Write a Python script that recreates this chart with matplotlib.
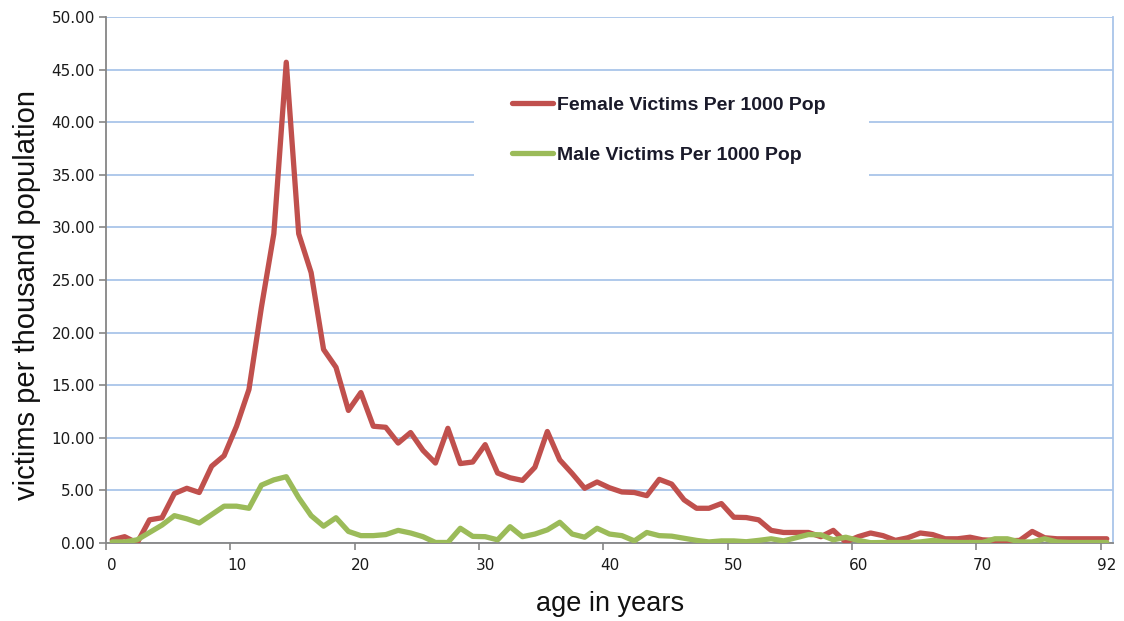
import matplotlib
matplotlib.use("Agg")
import matplotlib.pyplot as plt
from matplotlib.patches import Rectangle

# ---- data ----
age_categories = [str(a) for a in range(0, 80)] + ["92"]

female_rate = [0.3, 0.6, 0.0, 2.2, 2.4, 4.7, 5.2, 4.8, 7.3, 8.3,
               11.1, 14.6, 22.4, 29.4, 45.7, 29.4, 25.7, 18.4, 16.7, 12.6,
               14.3, 11.1, 11.0, 9.5, 10.5, 8.8, 7.6, 10.9, 7.55, 7.7,
               9.35, 6.65, 6.2, 5.95, 7.2, 10.6, 7.9, 6.6, 5.2, 5.8,
               5.25, 4.85, 4.8, 4.5, 6.05, 5.6, 4.1, 3.3, 3.3, 3.75,
               2.45, 2.42, 2.2, 1.2, 1.0, 1.0, 1.0, 0.6, 1.2, 0.1,
               0.6, 0.95, 0.7, 0.25, 0.5, 0.95, 0.8, 0.4, 0.4, 0.55,
               0.3, 0.25, 0.2, 0.25, 1.1, 0.5, 0.4, 0.4, 0.4, 0.4,
               0.4]

male_rate = [0.1, 0.1, 0.3, 1.0, 1.7, 2.6, 2.3, 1.9, 2.7, 3.5,
             3.5, 3.3, 5.5, 6.0, 6.3, 4.3, 2.6, 1.6, 2.4, 1.1,
             0.7, 0.7, 0.8, 1.2, 0.95, 0.6, 0.05, 0.05, 1.4, 0.63,
             0.6, 0.3, 1.55, 0.6, 0.85, 1.25, 1.97, 0.85, 0.55, 1.4,
             0.85, 0.7, 0.2, 1.0, 0.7, 0.65, 0.45, 0.25, 0.1, 0.2,
             0.2, 0.12, 0.25, 0.4, 0.2, 0.5, 0.8, 0.78, 0.3, 0.55,
             0.25, 0.03, 0.05, 0.05, 0.05, 0.1, 0.25, 0.1, 0.05, 0.05,
             0.05, 0.4, 0.4, 0.1, 0.1, 0.4, 0.1, 0.05, 0.05, 0.05,
             0.05]

y_ticks = [0, 5, 10, 15, 20, 25, 30, 35, 40, 45, 50]
series_names = ["Female Victims Per 1000 Pop", "Male Victims Per 1000 Pop"]

# ---- figure ----
W, H = 1124, 621
AX_L, AX_R, AX_T, AX_B = 106, 1113, 17, 543
fig = plt.figure(figsize=(W / 100, H / 100), dpi=100)
ax = fig.add_axes([AX_L / W, 1 - AX_B / H, (AX_R - AX_L) / W, (AX_B - AX_T) / H])

x = list(range(len(age_categories)))
red = "#C0504D"
green = "#9BBB59"
grid_c = "#A9C5E9"
axis_c = "#868686"

ax.set_axisbelow(True)
ax.yaxis.grid(True, color=grid_c, linewidth=1.3)
ax.plot(x, female_rate, color=red, linewidth=3.8, solid_joinstyle="round",
        solid_capstyle="round", label=series_names[0], zorder=3)
ax.plot(x, male_rate, color=green, linewidth=3.8, solid_joinstyle="round",
        solid_capstyle="round", label=series_names[1], zorder=3)

ax.set_xlim(-0.5, len(x) - 0.5)
ax.set_ylim(0, 50)

ax.set_yticks(y_ticks)
ax.set_yticklabels([f"{v:.2f}" for v in y_ticks])
label_idx = list(range(0, len(x), 10))
ax.set_xticks(label_idx)
ax.set_xticklabels([age_categories[i] for i in label_idx])
ax.set_xticks([i - 0.5 for i in range(0, len(x), 10)], minor=True)

ax.tick_params(axis="x", which="major", length=0, pad=11,
               labelsize=11, labelcolor="#1a1a1a")
ax.tick_params(axis="x", which="minor", length=5, width=1.2, color=axis_c,
               direction="out")
ax.tick_params(axis="y", which="major", length=5, width=1.2, color=axis_c,
               direction="out", pad=3, labelsize=11, labelcolor="#1a1a1a")

for s in ["left", "bottom"]:
    ax.spines[s].set_color(axis_c)
    ax.spines[s].set_linewidth(1.3)
ax.spines["top"].set_visible(False)
ax.spines["right"].set_color(grid_c)
ax.spines["right"].set_linewidth(1.3)

ax.set_ylabel("victims per thousand population", family="Liberation Sans",
              fontsize=21, color="#111111", va="center")
ax.yaxis.set_label_coords(-(AX_L - 27) / (AX_R - AX_L), (AX_B - 295) / (AX_B - AX_T))
ax.set_xlabel("age in years", family="Liberation Sans", fontsize=19.5,
              color="#111111", va="center")
ax.xaxis.set_label_coords((610 - AX_L) / (AX_R - AX_L), -(604 - AX_B) / (AX_B - AX_T))

# white legend panel covering gridlines
ax.add_patch(Rectangle((474 / W, 1 - 184 / H), (869 - 474) / W, (184 - 76) / H,
                       transform=fig.transFigure, facecolor="white",
                       edgecolor="none", zorder=1))

leg = ax.legend(loc="upper left", bbox_to_anchor=(512 / W, 1 - 96 / H),
                bbox_transform=fig.transFigure, frameon=False, borderpad=0,
                borderaxespad=0, handlelength=2.1, handletextpad=0.2,
                labelspacing=1.66,
                prop={"family": "Liberation Sans", "weight": "bold", "size": 14})
for t in leg.get_texts():
    t.set_color("#1a1a2a")

fig.savefig("out.png", dpi=100)
